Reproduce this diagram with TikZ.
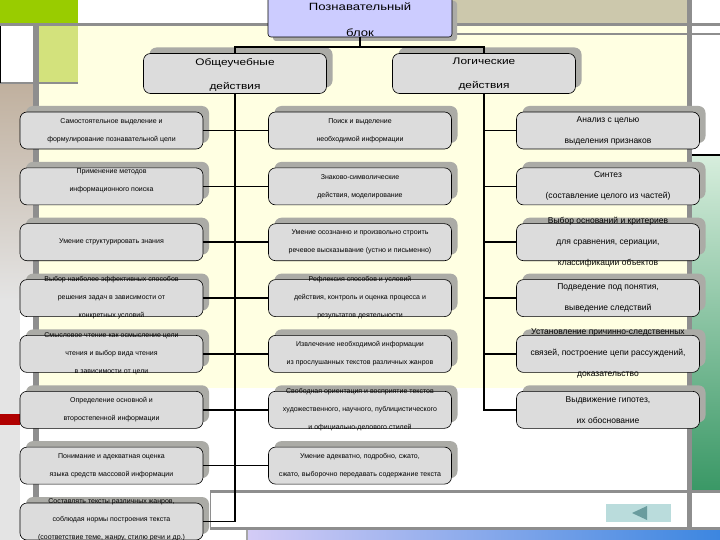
\documentclass[tikz,border=0pt]{standalone}
\usepackage{fontspec}
\setmainfont{Liberation Sans}
\newfontfamily\widefont{Liberation Sans}[FakeStretch=1.25]
\usetikzlibrary{shadows}
\definecolor{boxgray}{HTML}{DCDCDC}
\definecolor{shadowgray}{HTML}{ABABA6}
\definecolor{lav}{HTML}{CCCCFF}
\definecolor{paleyel}{HTML}{FFFFE2}
\definecolor{topgreen}{HTML}{99CC00}
\definecolor{litegreen}{HTML}{D3E27C}
\definecolor{tanA}{HTML}{CCC8AC}
\definecolor{tanB}{HTML}{C0B09E}
\definecolor{barg}{HTML}{8E8E8E}
\definecolor{navteal}{HTML}{BADCDC}
\definecolor{navdark}{HTML}{6A9C9E}
\definecolor{redbar}{HTML}{B00000}
\definecolor{leftgray}{HTML}{E4E4E4}
\tikzset{
  cbox/.style={draw=black, line width=0.6pt, fill=boxgray, rounded corners=7pt,
    minimum width=183pt, minimum height=37pt, inner sep=0pt,
    drop shadow={shadow xshift=6pt, shadow yshift=6pt, fill=shadowgray, opacity=1}},
  gbox/.style={cbox, minimum height=40pt},
  txtS/.style={font=\fontsize{7}{18}\selectfont, align=center, inner sep=0pt},
  txtR/.style={font=\fontsize{8.5}{21}\selectfont, align=center, inner sep=0pt},
  txtG/.style={font=\widefont\fontsize{9.5}{24}\selectfont, align=center, inner sep=0pt},
  txtT/.style={font=\widefont\fontsize{10.5}{26}\selectfont, align=center, inner sep=0pt},
  conn/.style={line width=1.5pt, black},
}
\begin{document}
\begin{tikzpicture}[x=1pt,y=-1pt]
\useasboundingbox (0,0) rectangle (720,540);
\clip (0,0) rectangle (720,540);
% ---------- background ----------
\fill[white] (0,0) rectangle (720,540);
\fill[topgreen] (0,0) rectangle (78,23);
\fill[tanA] (452,0) rectangle (687,23);
\fill[barg] (0,23) rectangle (720,26);
\fill[paleyel] (39,26) rectangle (687,388);
\fill[litegreen] (39,26) rectangle (78,83);
\shade[top color=tanB, bottom color=leftgray] (0,83) rectangle (33,300);
\fill[leftgray] (0,300) rectangle (20,540);
\fill[barg] (0,82.5) rectangle (78,84);
\fill[black] (0,26) rectangle (1,83);
\fill[redbar] (0,414) rectangle (20,425);
\fill[barg] (33,26) rectangle (39,540);
\fill[barg] (452,33) rectangle (720,35);
\fill[barg] (687,0) rectangle (692,527);
\shade[top color={rgb,255:red,214;green,237;blue,220}, bottom color={rgb,255:red,58;green,152;blue,102}] (692,157) rectangle (720,490);
\draw[line width=1.5pt] (692,155) -- (720,155);
\fill[barg] (210,490) rectangle (720,493);
\fill[barg] (210,527) rectangle (720,530);
\draw[barg, line width=0.8pt] (210,493) -- (210,527);
\shade[left color={rgb,255:red,212;green,204;blue,246}, right color={rgb,255:red,60;green,134;blue,224}] (247,530) rectangle (720,540);
\fill[gray!70] (246,530) rectangle (247.5,540);
\fill[navteal] (606,504) rectangle (671,522);
\fill[navdark] (632,513) -- (647,506) -- (647,520) -- cycle;
% ---------- top ----------
\node[draw=black, line width=0.6pt, fill=lav, rounded corners=3pt, minimum width=184pt, minimum height=40pt,
  drop shadow={shadow xshift=5pt, shadow yshift=-4pt, fill=shadowgray, opacity=1}] (T) at (360,17) {};
\node[txtT] (Tt) at (360,20) {Познавательный\\блок};
\node[gbox] (G1) at (235,73.5) {};
\node[txtG] (G1t) at (235,74.5) {Общеучебные\\действия};
\node[gbox] (G2) at (484,73.5) {};
\node[txtG] (G2t) at (484,74.5) {Логические\\действия};
% ---------- left column ----------
\node[cbox] (L1) at (111.5,130.5) {};
\node[txtS] (L1t) at (L1) {Самостоятельное выделение и\\формулирование познавательной цели};
\node[cbox] (L2) at (111.5,186.4) {};
\node[txtS] (L2t) at (111.5,181) {Применение методов\\информационного поиска};
\node[cbox] (L3) at (111.5,242.2) {};
\node[txtS] (L3t) at (L3) {Умение структурировать знания};
\node[cbox] (L4) at (111.5,298.1) {};
\node[txtS] (L4t) at (L4) {Выбор наиболее эффективных способов\\решения задач в зависимости от\\конкретных условий};
\node[cbox] (L5) at (111.5,353.9) {};
\node[txtS] (L5t) at (L5) {Смысловое чтение как осмысление цели\\чтения и выбор вида чтения\\в зависимости от цели};
\node[cbox] (L6) at (111.5,409.8) {};
\node[txtS] (L6t) at (L6) {Определение основной и\\второстепенной информации};
\node[cbox] (L7) at (111.5,465.6) {};
\node[txtS] (L7t) at (L7) {Понимание и адекватная оценка\\языка средств массовой информации};
\node[cbox] (L8) at (111.5,521.5) {};
\node[txtS] (L8t) at (111.5,520) {Составлять тексты различных жанров,\\соблюдая нормы построения текста\\(соответствие теме, жанру, стилю речи и др.)};
% ---------- middle column ----------
\node[cbox] (M1) at (360,130.5) {};
\node[txtS] (M1t) at (M1) {Поиск и выделение\\необходимой информации};
\node[cbox] (M2) at (360,186.4) {};
\node[txtS] (M2t) at (M2) {Знаково-символические\\действия, моделирование};
\node[cbox] (M3) at (360,242.2) {};
\node[txtS] (M3t) at (M3) {Умение осознанно и произвольно строить\\речевое высказывание (устно и письменно)};
\node[cbox] (M4) at (360,298.1) {};
\node[txtS] (M4t) at (M4) {Рефлексия способов и условий\\действия, контроль и оценка процесса и\\результатов деятельности};
\node[cbox] (M5) at (360,353.9) {};
\node[txtS] (M5t) at (M5) {Извлечение необходимой информации\\из прослушанных текстов различных жанров};
\node[cbox] (M6) at (360,409.8) {};
\node[txtS] (M6t) at (M6) {Свободная ориентация и восприятие текстов\\художественного, научного, публицистического\\и официально-делового стилей};
\node[cbox] (M7) at (360,465.6) {};
\node[txtS] (M7t) at (M7) {Умение адекватно, подробно, сжато,\\сжато, выборочно передавать содержание текста};
% ---------- right column ----------
\node[cbox] (R1) at (608,130.5) {};
\node[txtR] (R1t) at (R1) {Анализ с целью\\выделения признаков};
\node[cbox] (R2) at (608,186.4) {};
\node[txtR] (R2t) at (R2) {Синтез\\(составление целого из частей)};
\node[cbox] (R3) at (608,242.2) {};
\node[txtR] (R3t) at (R3) {Выбор оснований и критериев\\для сравнения, сериации,\\классификации объектов};
\node[cbox] (R4) at (608,298.1) {};
\node[txtR] (R4t) at (R4) {Подведение под понятия,\\выведение следствий};
\node[cbox] (R5) at (608,353.9) {};
\node[txtR] (R5t) at (R5) {Установление причинно-следственных\\связей, построение цепи рассуждений,\\доказательство};
\node[cbox] (R6) at (608,409.8) {};
\node[txtR] (R6t) at (R6) {Выдвижение гипотез,\\их обоснование};
% ---------- connectors ----------
\coordinate (J) at (360,47);
\draw[conn] (T.south) -- (J);
\draw[conn] (G1.north) |- (J) -| (G2.north);
\draw[conn] (G1.south) |- (L8.east);
\draw[conn] (G2.south) |- (R6.west);
\foreach \i in {1,...,7} { \draw[conn] (L\i.east) -- (M\i.west); }
\foreach \i in {1,...,5} { \draw[conn] (R\i.west) -- (R\i.west -| G2.south); }
\end{tikzpicture}
\end{document}
